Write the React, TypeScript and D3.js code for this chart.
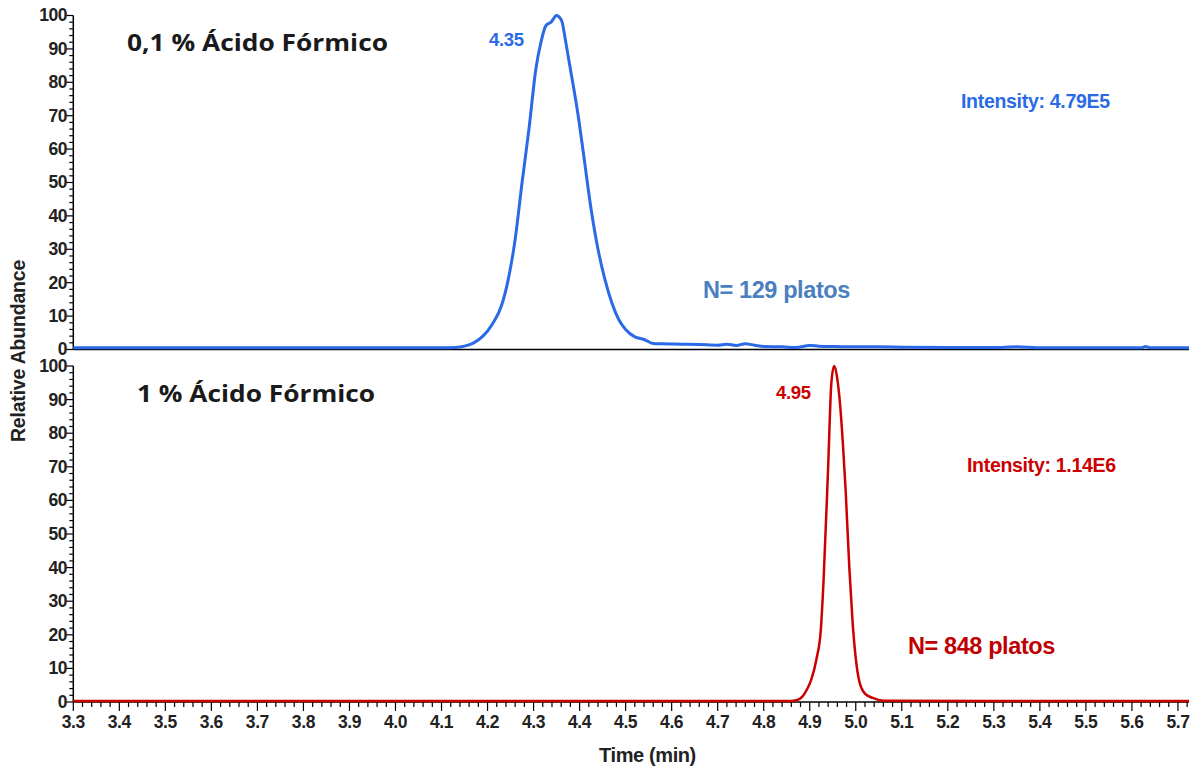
import React from "react";
import * as d3 from "d3";

// Chromatogram traces (time in min, relative abundance in %)
const topTimes = [
  3.3, 3.6, 3.9, 4.1, 4.13, 4.15, 4.17, 4.19, 4.21, 4.23, 4.245, 4.26, 4.275, 4.29,
  4.305, 4.316, 4.327, 4.338, 4.35, 4.356, 4.362, 4.37, 4.38, 4.398, 4.41, 4.425,
  4.44, 4.455, 4.47, 4.485, 4.5, 4.52, 4.54, 4.56, 4.58, 4.62, 4.66, 4.7, 4.72,
  4.74, 4.76, 4.78, 4.8, 4.84, 4.87, 4.9, 4.92, 4.95, 5.0, 5.05, 5.1, 5.2, 5.3,
  5.35, 5.4, 5.62, 5.63, 5.64, 5.724,
];
const topValues = [
  0.5, 0.5, 0.5, 0.5, 0.6, 1.0, 2.0, 4.0, 7.5, 13, 21, 33, 50, 66,
  84, 92, 97, 98, 100, 99.5, 98, 92, 84, 69, 57, 42,
  30, 21, 14, 9, 6, 3.8, 3.0, 1.8, 1.7, 1.6, 1.5, 1.3, 1.6,
  1.2, 1.7, 1.3, 0.9, 0.8, 0.6, 1.2, 1.0, 0.9, 0.8, 0.8, 0.7, 0.6, 0.6,
  0.8, 0.5, 0.5, 0.9, 0.5, 0.5,
];

const bottomTimes = [
  3.3, 3.8, 4.3, 4.86, 4.871, 4.884, 4.895, 4.903, 4.915, 4.924, 4.93, 4.94, 4.947,
  4.953, 4.959, 4.965, 4.972, 4.978, 4.986, 4.993, 5.0, 5.008, 5.02, 5.037, 5.06,
  5.3, 5.724,
];
const bottomValues = [
  0.3, 0.3, 0.3, 0.3, 0.5, 1.6, 4, 6.5, 13, 21.4, 36, 70, 95,
  100, 97, 90, 77, 63, 40, 24, 13, 6, 2.5, 1.2, 0.4,
  0.3, 0.3,
];

const xTickLabels = [
  "3.3", "3.4", "3.5", "3.6", "3.7", "3.8", "3.9", "4.0", "4.1", "4.2", "4.3", "4.4",
  "4.5", "4.6", "4.7", "4.8", "4.9", "5.0", "5.1", "5.2", "5.3", "5.4", "5.5", "5.6", "5.7",
];
const yTickLabels = ["0", "10", "20", "30", "40", "50", "60", "70", "80", "90", "100"];

const BLUE = "#2a6ae6";
const RED = "#cc0000";
const ARIAL = "'Liberation Sans', Arial, sans-serif";
const TITLE_FONT = "'Open Sans', 'Noto Sans', sans-serif";

export default function App() {
  const width = 1198;
  const height = 767;

  const x = d3.scaleLinear().domain([3.3, 5.724]).range([73.3, 1189]);
  const yTop = d3.scaleLinear().domain([0, 100]).range([349.5, 15.5]);
  const yBot = d3.scaleLinear().domain([0, 100]).range([702, 366]);

  const lineTop = d3
    .line<number>()
    .x((_, i) => x(topTimes[i]))
    .y((d) => yTop(d))
    .curve(d3.curveMonotoneX);
  const lineBot = d3
    .line<number>()
    .x((_, i) => x(bottomTimes[i]))
    .y((d) => yBot(d))
    .curve(d3.curveMonotoneX);

  const x0 = x.range()[0];
  const x1 = x.range()[1];

  const yAxis = (y: d3.ScaleLinear<number, number>, key: string) => {
    const minor = d3.range(0, 101, 2);
    return (
      <g key={key}>
        <line x1={x0} x2={x0} y1={y(100)} y2={y(0)} stroke="#000" strokeWidth={1.5} />
        {minor.map((v) => (
          <line
            key={v}
            x1={x0}
            x2={x0 - (v % 10 === 0 ? 7 : 4)}
            y1={y(v)}
            y2={y(v)}
            stroke="#000"
            strokeWidth={1.2}
          />
        ))}
        {yTickLabels.map((t) => (
          <text
            key={t}
            x={67}
            y={y(+t)}
            dy="0.34em"
            textAnchor="end"
            fontFamily={ARIAL}
            fontWeight="bold"
            fontSize={17.5}
            letterSpacing={-0.5}
            fill="#222"
          >
            {t}
          </text>
        ))}
      </g>
    );
  };

  const xMinor = d3.range(0, 122).map((i) => 3.3 + i * 0.02).filter((v) => v <= 5.724);

  return (
    <svg
      width={width}
      height={height}
      style={{ position: "absolute", left: 0, top: 0, background: "#fff" }}
    >
      <rect width={width} height={height} fill="#fff" />

      {yAxis(yTop, "top")}
      {yAxis(yBot, "bot")}

      {/* baselines */}
      <line x1={x0} x2={x1} y1={yTop(0)} y2={yTop(0)} stroke="#000" strokeWidth={1.5} />
      <line x1={x0} x2={x1} y1={yBot(0)} y2={yBot(0)} stroke="#000" strokeWidth={1.5} />

      {/* x ticks on the lower panel */}
      {xMinor.map((v, i) => (
        <line
          key={i}
          x1={x(v)}
          x2={x(v)}
          y1={yBot(0)}
          y2={yBot(0) + (i % 5 === 0 ? 9 : 5)}
          stroke="#000"
          strokeWidth={1.2}
        />
      ))}
      {xTickLabels.map((t) => (
        <text
          key={t}
          x={x(+t)}
          y={728}
          textAnchor="middle"
          fontFamily={ARIAL}
          fontWeight="bold"
          fontSize={17.5}
          letterSpacing={-0.4}
          fill="#222"
        >
          {t}
        </text>
      ))}

      {/* traces */}
      <path d={lineTop(topValues) ?? ""} fill="none" stroke={BLUE} strokeWidth={3} strokeLinejoin="round" />
      <path d={lineBot(bottomValues) ?? ""} fill="none" stroke={RED} strokeWidth={2.5} strokeLinejoin="round" />

      {/* axis titles */}
      <text
        x={647.5}
        y={762}
        textAnchor="middle"
        fontFamily={ARIAL}
        fontWeight="bold"
        fontSize={20}
        letterSpacing={-0.4}
        fill="#222"
      >
        Time (min)
      </text>
      <text
        transform="translate(25,351) rotate(-90)"
        textAnchor="middle"
        fontFamily={ARIAL}
        fontWeight="bold"
        fontSize={19.5}
        letterSpacing={-0.2}
        fill="#222"
      >
        Relative Abundance
      </text>

      {/* panel titles */}
      <text
        x={127}
        y={51}
        fontFamily={TITLE_FONT}
        fontWeight={700}
        fontSize={24}
        textLength={261}
        lengthAdjust="spacingAndGlyphs"
        fill="#1a1a1a"
      >
        0,1 % Ácido Fórmico
      </text>
      <text
        x={137}
        y={402}
        fontFamily={TITLE_FONT}
        fontWeight={700}
        fontSize={24}
        textLength={238}
        lengthAdjust="spacingAndGlyphs"
        fill="#1a1a1a"
      >
        1 % Ácido Fórmico
      </text>

      {/* peak annotations */}
      <text x={489} y={46} fontFamily={ARIAL} fontWeight="bold" fontSize={18.5} letterSpacing={-0.3} fill={BLUE}>
        4.35
      </text>
      <text x={776} y={399} fontFamily={ARIAL} fontWeight="bold" fontSize={18.5} letterSpacing={-0.3} fill={RED}>
        4.95
      </text>
      <text x={961} y={108} fontFamily={ARIAL} fontWeight="bold" fontSize={19.5} letterSpacing={-0.3} fill={BLUE}>
        Intensity: 4.79E5
      </text>
      <text x={967} y={472} fontFamily={ARIAL} fontWeight="bold" fontSize={19.5} letterSpacing={-0.3} fill={RED}>
        Intensity: 1.14E6
      </text>
      <text x={703} y={298} fontFamily={ARIAL} fontWeight="bold" fontSize={23.5} letterSpacing={-0.4} fill="#4a7fc0">
        N= 129 platos
      </text>
      <text x={908} y={654} fontFamily={ARIAL} fontWeight="bold" fontSize={23.5} letterSpacing={-0.4} fill="#c00000">
        N= 848 platos
      </text>
    </svg>
  );
}
